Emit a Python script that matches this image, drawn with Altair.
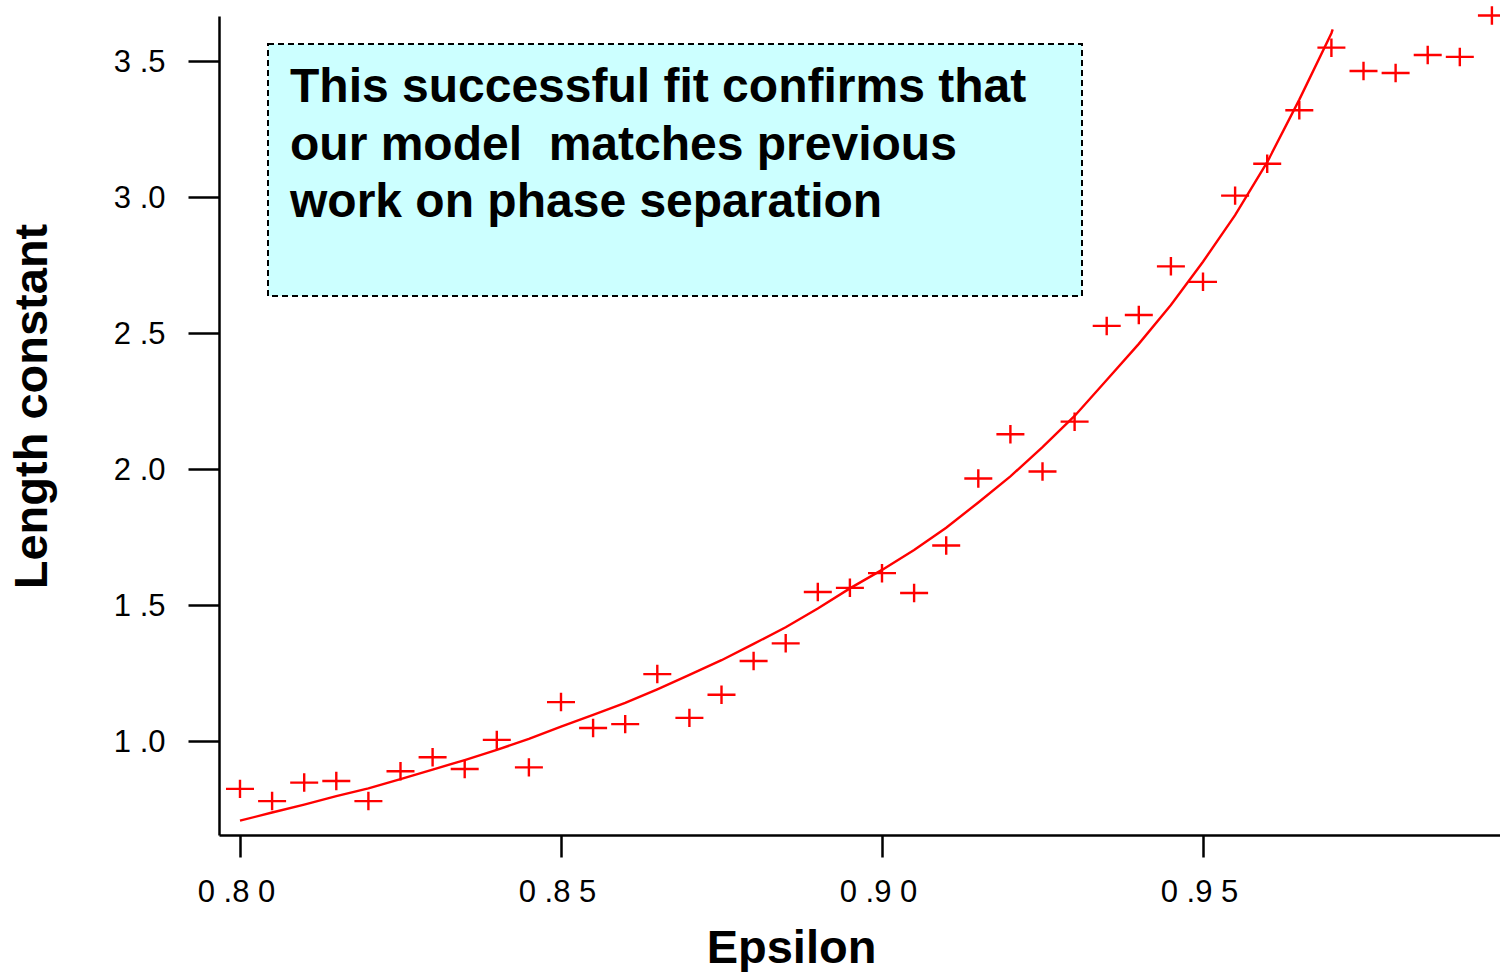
import altair as alt
import pandas as pd

# ---- data ----
eps = [0.800, 0.805, 0.810, 0.815, 0.820, 0.825, 0.830, 0.835, 0.840, 0.845,
       0.850, 0.855, 0.860, 0.865, 0.870, 0.875, 0.880, 0.885, 0.890, 0.895,
       0.900, 0.905, 0.910, 0.915, 0.920, 0.925, 0.930, 0.935, 0.940, 0.945,
       0.950, 0.955, 0.960, 0.965, 0.970, 0.975, 0.980, 0.985, 0.990, 0.995]
length_const = [0.824, 0.779, 0.847, 0.853, 0.779, 0.889, 0.940, 0.897, 1.004, 0.903,
                1.143, 1.048, 1.062, 1.246, 1.085, 1.170, 1.294, 1.359, 1.548, 1.563,
                1.617, 1.544, 1.719, 1.965, 2.128, 1.991, 2.174, 2.526, 2.566, 2.745,
                2.688, 3.005, 3.122, 3.319, 3.549, 3.463, 3.456, 3.522, 3.515, 3.667]

fit_eps = [0.800, 0.805, 0.810, 0.815, 0.820, 0.825, 0.830, 0.835, 0.840, 0.845,
           0.850, 0.855, 0.860, 0.865, 0.870, 0.875, 0.880, 0.885, 0.890, 0.895,
           0.900, 0.905, 0.910, 0.915, 0.920, 0.925, 0.930, 0.935, 0.940, 0.945,
           0.950, 0.955, 0.960, 0.965, 0.970, 0.9702]
fit_len = [0.707, 0.737, 0.766, 0.797, 0.826, 0.860, 0.895, 0.930, 0.967, 1.008,
           1.053, 1.096, 1.140, 1.190, 1.243, 1.297, 1.357, 1.418, 1.487, 1.561,
           1.629, 1.702, 1.784, 1.877, 1.973, 2.080, 2.195, 2.327, 2.460, 2.603,
           2.762, 2.933, 3.128, 3.358, 3.602, 3.616]

note_lines = ["This successful fit confirms that",
              "our model\u00a0 matches previous",
              "work on phase separation"]

x_ticks = [0.80, 0.85, 0.90, 0.95]
y_ticks = [1.0, 1.5, 2.0, 2.5, 3.0, 3.5]
x_title = "Epsilon"
y_title = "Length constant"

X_DOMAIN = [0.79673, 0.99626]
Y_DOMAIN = [0.6544, 3.6654]

FONT = "Liberation Sans"
RED = "#ff0000"

pts = pd.DataFrame({"eps": eps, "len": length_const})
fit = pd.DataFrame({"eps": fit_eps, "len": fit_len})
one = pd.DataFrame({"k": [0]})

x_label_expr = ("substring(format(datum.value,'.2f'),0,1)+' '+"
                "substring(format(datum.value,'.2f'),1,3)+' '+"
                "substring(format(datum.value,'.2f'),3)")
y_label_expr = ("substring(format(datum.value,'.1f'),0,1)+' '+"
                "substring(format(datum.value,'.1f'),1)")

x_enc = alt.X("eps:Q", scale=alt.Scale(domain=X_DOMAIN, nice=False, zero=False),
              axis=alt.Axis(values=x_ticks, labelExpr=x_label_expr, title=x_title,
                            tickSize=22, labelPadding=20, labelOffset=-4,
                            titleX=572, titleY=127, titleAlign="center",
                            titleBaseline="alphabetic", titleAngle=0))
y_enc = alt.Y("len:Q", scale=alt.Scale(domain=Y_DOMAIN, nice=False, zero=False),
              axis=alt.Axis(values=y_ticks, labelExpr=y_label_expr, title=y_title,
                            tickSize=31, labelPadding=23, labelOffset=2,
                            titleX=-173, titleY=390, titleAlign="center",
                            titleBaseline="alphabetic", titleAngle=-90))

line = alt.Chart(fit).mark_line(color=RED, strokeWidth=2.4).encode(x=x_enc, y=y_enc)

cross = "M-1,0L1,0M0,-0.66L0,0.66"
points = alt.Chart(pts).mark_point(shape=cross, filled=False, stroke=RED,
                                   strokeWidth=2.4, size=784, opacity=1).encode(
    x="eps:Q", y="len:Q")

box = alt.Chart(one).mark_rect(fill="#ccffff", stroke="black", strokeWidth=2,
                               strokeDash=[6, 4]).encode(
    x=alt.value(49), x2=alt.value(863), y=alt.value(28), y2=alt.value(280))

note = alt.Chart(one).mark_text(text=note_lines, font=FONT, fontSize=48,
                                fontWeight="bold", color="black", align="left",
                                baseline="alphabetic", lineHeight=57.5).encode(
    x=alt.value(71), y=alt.value(86))

chart = alt.layer(box, note, line, points).properties(
    width=1281, height=819,
    autosize=alt.AutoSizeParams(type="none"),
    padding={"left": 219, "top": 16, "right": 0, "bottom": 137},
    background="white",
).configure_view(stroke=None).configure_axis(
    grid=False, domainColor="black", domainWidth=2.5, tickColor="black",
    tickWidth=2.5, labelFont=FONT, labelFontSize=31, labelColor="black",
    titleFont=FONT, titleFontSize=47, titleFontWeight="bold", titleColor="black",
)

chart.save("out.html", embed_options={"renderer": "svg", "actions": False})
